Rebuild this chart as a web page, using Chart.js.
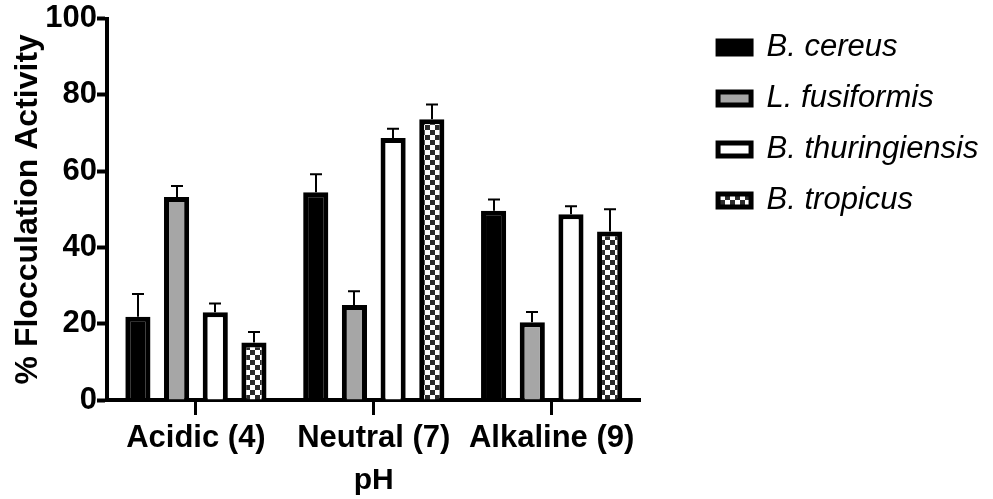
<!DOCTYPE html>
<html>
<head>
<meta charset="utf-8">
<script src="https://cdn.jsdelivr.net/npm/chart.js@4.4.1/dist/chart.umd.min.js"></script>
<style>
  html, body { margin: 0; padding: 0; background: #fff; }
  canvas { display: block; }
</style>
</head>
<body>
<canvas id="c" width="993" height="499"></canvas>
<script>
// ---- data ----
const categories = ['Acidic (4)', 'Neutral (7)', 'Alkaline (9)'];
const seriesNames = ['B. cereus', 'L. fusiformis', 'B. thuringiensis', 'B. tropicus'];
const cereus        = [21.8, 54.5, 49.6];
const cereusErr     = [6.0, 4.7, 3.0];
const fusiformis    = [53.2, 24.9, 20.4];
const fusiformisErr = [2.9, 3.6, 2.7];
const thuringiensis = [23.0, 68.7, 48.7];
const thuringErr    = [2.3, 2.4, 2.1];
const tropicus      = [15.1, 73.6, 44.2];
const tropicusErr   = [2.7, 3.9, 5.8];
const yTicks = [0, 20, 40, 60, 80, 100];
const yTitle = '% Flocculation Activity';
const xTitle = 'pH';

const FONT = "'Liberation Sans', Arial, Helvetica, sans-serif";
Chart.defaults.color = '#000';
Chart.defaults.font.family = FONT;

const canvas = document.getElementById('c');
const ctx = canvas.getContext('2d');

// checkered fill
const pc = document.createElement('canvas');
pc.width = 10; pc.height = 10;
const pg = pc.getContext('2d');
pg.fillStyle = '#ffffff'; pg.fillRect(0, 0, 10, 10);
pg.fillStyle = '#2b2b2b'; pg.fillRect(0, 0, 5, 5); pg.fillRect(5, 5, 5, 5);
const checker = ctx.createPattern(pc, 'repeat');

const errors = [cereusErr, fusiformisErr, thuringErr, tropicusErr];

const errorBarPlugin = {
  id: 'errorBars',
  afterDatasetsDraw(chart) {
    const c = chart.ctx;
    const yScale = chart.scales.y;
    c.save();
    c.strokeStyle = '#000';
    c.lineWidth = 2;
    chart.data.datasets.forEach((ds, i) => {
      const meta = chart.getDatasetMeta(i);
      meta.data.forEach((bar, j) => {
        const v = ds.data[j];
        const e = errors[i][j];
        const top = yScale.getPixelForValue(v + e);
        const x = Math.round(bar.x);
        c.beginPath();
        c.moveTo(x, bar.y);
        c.lineTo(x, top);
        c.moveTo(x - 6, top);
        c.lineTo(x + 6, top);
        c.stroke();
      });
    });
    c.restore();
  }
};

// let the legend be wider than Chart.js' default cap (half the width / box count)
const wideLegendPlugin = {
  id: 'wideLegend',
  beforeLayout(chart) {
    const lg = chart.legend;
    if (lg && !lg._wideDone) {
      const orig = lg.update;
      lg.update = function (maxWidth, maxHeight, margins) {
        return orig.call(this, Math.max(maxWidth, 320), maxHeight, margins);
      };
      lg._wideDone = true;
    }
  }
};

new Chart(ctx, {
  type: 'bar',
  data: {
    labels: categories,
    datasets: [
      { label: seriesNames[0], data: cereus, backgroundColor: '#000000', borderColor: '#000000', borderWidth: 5 },
      { label: seriesNames[1], data: fusiformis, backgroundColor: '#a6a6a6', borderColor: '#000000', borderWidth: 5 },
      { label: seriesNames[2], data: thuringiensis, backgroundColor: '#ffffff', borderColor: '#000000', borderWidth: 5 },
      { label: seriesNames[3], data: tropicus, backgroundColor: checker, borderColor: '#000000', borderWidth: 5 }
    ]
  },
  options: {
    responsive: false,
    animation: false,
    devicePixelRatio: 1,
    layout: { padding: { top: 12, right: 4.5, bottom: 0, left: 0 } },
    datasets: { bar: { categoryPercentage: 0.87, barPercentage: 0.65 } },
    plugins: {
      legend: {
        position: 'right',
        align: 'start',
        labels: {
          boxWidth: 33,
          boxHeight: 13,
          padding: 20,
          color: '#000',
          font: { family: FONT, size: 31, style: 'italic' }
        }
      },
      tooltip: { enabled: false }
    },
    scales: {
      x: {
        grid: { display: true, drawOnChartArea: false, drawTicks: true, offset: false, tickLength: 15, tickWidth: 3, tickColor: '#000' },
        border: { display: true, color: '#000', width: 4 },
        ticks: { color: '#000', padding: 5, maxRotation: 0, font: { family: FONT, size: 31, weight: 'bold' } },
        title: { display: true, text: xTitle, color: '#000', padding: { top: 0, bottom: 0 }, font: { family: FONT, size: 30, weight: 'bold' } },
        afterFit(s) { s.height = 99; }
      },
      y: {
        min: 0, max: 100,
        afterBuildTicks(s) { s.ticks = yTicks.map(v => ({ value: v })); },
        grid: { display: true, drawOnChartArea: false, drawTicks: true, tickLength: 10, tickWidth: 4, tickColor: '#000' },
        border: { display: true, color: '#000', width: 4 },
        ticks: { color: '#000', padding: 0, font: { family: FONT, size: 31, weight: 'bold' } },
        title: { display: true, text: yTitle, color: '#000', padding: { top: 9, bottom: 0 }, font: { family: FONT, size: 32, weight: 'bold' } },
        afterFit(s) { s.width = 107; }
      },
      spacer: {
        type: 'linear',
        position: 'right',
        display: true,
        grid: { display: false, drawTicks: false },
        border: { display: false },
        ticks: { display: false },
        afterFit(s) { s.width = 57.5; }
      }
    }
  },
  plugins: [wideLegendPlugin, errorBarPlugin]
});
</script>
</body>
</html>
